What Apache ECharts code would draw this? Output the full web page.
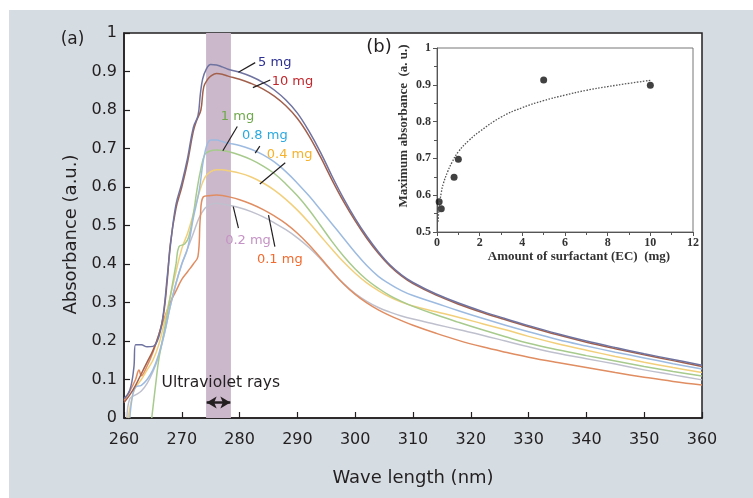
<!DOCTYPE html>
<html>
<head>
<meta charset="utf-8">
<script src="https://cdn.jsdelivr.net/npm/echarts@6/dist/echarts.min.js"></script>
<style>
  html, body { margin: 0; padding: 0; background: #fff; }
  #chart { position: absolute; left: 9px; top: 10px; width: 744px; height: 488px; }
</style>
</head>
<body>
<div id="chart"></div>
<script>
// (a) spectra: rising edge as [wavelength, absorbance], tail on shared wavelengths
const tailWl = [278, 280, 282, 284, 286, 288, 290, 292, 294, 296, 298, 300, 302, 304, 306, 308, 310, 314, 318, 322, 326, 330, 335, 340, 345, 350, 355, 360];

const rise_5mg = [[260, 0.05], [261, 0.072], [261.7, 0.13], [262, 0.19], [263, 0.19], [264, 0.185], [265, 0.186], [266, 0.21], [266.8, 0.27], [267.5, 0.37], [268.2, 0.47], [269, 0.555], [270, 0.61], [271, 0.675], [272, 0.755], [272.8, 0.785], [273.2, 0.84], [273.6, 0.88], [274.2, 0.905], [275, 0.918], [276, 0.917], [277, 0.912]];
const tail_5mg = [0.906, 0.898, 0.887, 0.872, 0.852, 0.826, 0.792, 0.745, 0.690, 0.628, 0.570, 0.518, 0.472, 0.432, 0.398, 0.372, 0.352, 0.322, 0.298, 0.277, 0.258, 0.240, 0.219, 0.200, 0.183, 0.167, 0.152, 0.137];

const rise_10mg = [[260, 0.04], [261, 0.06], [262, 0.085], [263, 0.115], [264, 0.145], [265, 0.175], [266, 0.215], [266.8, 0.265], [267.5, 0.36], [268, 0.45], [269, 0.545], [270, 0.60], [271, 0.665], [272, 0.745], [272.6, 0.774], [273.3, 0.80], [273.8, 0.86], [274.5, 0.88], [275, 0.888], [276, 0.895], [277, 0.893]];
const tail_10mg = [0.888, 0.880, 0.869, 0.855, 0.836, 0.811, 0.778, 0.733, 0.678, 0.618, 0.562, 0.512, 0.467, 0.428, 0.395, 0.369, 0.349, 0.319, 0.295, 0.274, 0.255, 0.237, 0.216, 0.197, 0.180, 0.164, 0.149, 0.134];

const rise_1mg = [[264.8, 0], [265.5, 0.09], [266, 0.15], [267, 0.23], [268, 0.315], [269, 0.40], [269.5, 0.445], [270.5, 0.452], [271.2, 0.47], [272, 0.53], [272.6, 0.59], [273.2, 0.64], [274, 0.685], [275, 0.694], [276, 0.696], [277, 0.695]];
const tail_1mg = [0.692, 0.683, 0.671, 0.655, 0.635, 0.608, 0.577, 0.541, 0.500, 0.458, 0.420, 0.387, 0.359, 0.337, 0.318, 0.303, 0.290, 0.268, 0.248, 0.229, 0.211, 0.194, 0.177, 0.162, 0.148, 0.134, 0.121, 0.109];

const rise_08mg = [[261, 0], [261.5, 0.06], [262, 0.08], [263, 0.085], [264, 0.10], [265, 0.125], [266, 0.165], [267, 0.22], [268, 0.29], [269, 0.35], [270, 0.40], [271, 0.44], [272, 0.52], [273, 0.59], [274, 0.69], [275, 0.722], [276, 0.722], [277, 0.718]];
const tail_08mg = [0.714, 0.708, 0.698, 0.684, 0.665, 0.640, 0.610, 0.577, 0.541, 0.504, 0.467, 0.430, 0.396, 0.368, 0.348, 0.331, 0.318, 0.298, 0.278, 0.259, 0.241, 0.224, 0.204, 0.187, 0.171, 0.156, 0.141, 0.127];

const rise_04mg = [[260.7, 0], [261.5, 0.06], [262, 0.08], [263, 0.10], [264, 0.125], [265, 0.15], [266, 0.19], [267, 0.25], [268, 0.315], [269, 0.38], [270, 0.44], [271, 0.48], [272, 0.53], [273, 0.585], [274, 0.625], [275, 0.640], [276, 0.645], [277, 0.645]];
const tail_04mg = [0.642, 0.636, 0.626, 0.611, 0.592, 0.568, 0.540, 0.508, 0.473, 0.438, 0.405, 0.376, 0.351, 0.331, 0.314, 0.301, 0.291, 0.276, 0.261, 0.245, 0.229, 0.212, 0.193, 0.176, 0.160, 0.145, 0.131, 0.118];

const rise_02mg = [[260.5, 0], [261, 0.05], [262, 0.06], [263, 0.07], [264, 0.09], [265, 0.12], [266, 0.16], [267, 0.22], [268, 0.29], [269, 0.35], [270, 0.40], [271, 0.44], [272, 0.48], [273, 0.52], [274, 0.545], [275, 0.555], [276, 0.558], [277, 0.556]];
const tail_02mg = [0.553, 0.546, 0.536, 0.523, 0.507, 0.489, 0.468, 0.443, 0.413, 0.380, 0.349, 0.323, 0.303, 0.287, 0.275, 0.265, 0.257, 0.243, 0.229, 0.215, 0.200, 0.185, 0.168, 0.154, 0.140, 0.125, 0.112, 0.099];

const rise_01mg = [[260, 0.045], [261, 0.07], [262, 0.10], [262.6, 0.125], [263, 0.11], [264, 0.135], [265, 0.17], [266, 0.215], [267, 0.26], [268, 0.30], [269, 0.33], [270, 0.36], [271, 0.38], [272, 0.40], [272.8, 0.42], [273.2, 0.52], [273.7, 0.574], [275, 0.578], [276, 0.579], [277, 0.578]];
const tail_01mg = [0.575, 0.567, 0.556, 0.542, 0.525, 0.505, 0.480, 0.450, 0.416, 0.381, 0.348, 0.321, 0.299, 0.281, 0.266, 0.253, 0.241, 0.220, 0.201, 0.185, 0.171, 0.158, 0.144, 0.131, 0.118, 0.106, 0.095, 0.086];

// (b) inset: measured maxima and dotted fit
const ecAmount = [0.1, 0.2, 0.8, 1, 5, 10];
const maxAbs = [0.582, 0.563, 0.649, 0.698, 0.913, 0.899];
const fitX = [0.05, 0.1, 0.2, 0.3, 0.5, 0.7, 1, 1.5, 2, 3, 4, 5, 6, 7, 8, 9, 10];
const fitY = [0.528, 0.565, 0.607, 0.632, 0.664, 0.689, 0.718, 0.749, 0.773, 0.812, 0.838, 0.857, 0.872, 0.885, 0.895, 0.904, 0.912];

const uvBand = [274.2, 278.5];

const seriesDefs = [
  { name: '0.2 mg', rise: rise_02mg, tail: tail_02mg, color: '#bfc0cd', text: '#c593c5', label: [277.5, 0.462], leader: [[279.8, 0.493], [278.9, 0.549]] },
  { name: '0.1 mg', rise: rise_01mg, tail: tail_01mg, color: '#e08d62', text: '#f26a2e', label: [283.0, 0.412], leader: [[286.1, 0.445], [285.0, 0.527]] },
  { name: '0.4 mg', rise: rise_04mg, tail: tail_04mg, color: '#f2cf7b', text: '#f7b22c', label: [284.7, 0.683], leader: [[287.9, 0.663], [283.5, 0.608]] },
  { name: '1 mg', rise: rise_1mg, tail: tail_1mg, color: '#a7ca8d', text: '#6fa84c', label: [276.75, 0.783], leader: [[279.6, 0.757], [277.1, 0.694]] },
  { name: '0.8 mg', rise: rise_08mg, tail: tail_08mg, color: '#9dbbe0', text: '#29a9e0', label: [280.4, 0.733], leader: [[283.5, 0.706], [282.7, 0.688]] },
  { name: '10 mg', rise: rise_10mg, tail: tail_10mg, color: '#a2604c', text: '#c1272d', label: [285.55, 0.875], leader: [[282.3, 0.858], [285.3, 0.878]] },
  { name: '5 mg', rise: rise_5mg, tail: tail_5mg, color: '#6f73a0', text: '#2e3192', label: [283.2, 0.923], leader: [[279.8, 0.898], [282.7, 0.923]] }
];

const ink = '#231f20';
const sans = 'DejaVu Sans';
const serif = 'Liberation Serif';

const chart = echarts.init(document.getElementById('chart'));

const series = seriesDefs.map(d => ({
  name: d.name,
  type: 'line',
  xAxisIndex: 0,
  yAxisIndex: 0,
  showSymbol: false,
  smooth: 0.4,
  lineStyle: { color: d.color, width: 1.5 },
  data: d.rise.concat(tailWl.map((w, i) => [w, d.tail[i]])),
  silent: true
}));

// UV band behind the curves
series[0].markArea = {
  silent: true,
  itemStyle: { color: '#cbb8cb' },
  data: [[{ xAxis: uvBand[0] }, { xAxis: uvBand[1] }]]
};

// leader lines + labels on top
series.push({
  type: 'line',
  xAxisIndex: 0,
  yAxisIndex: 0,
  data: [],
  silent: true,
  z: 5,
  markLine: {
    silent: true,
    symbol: 'none',
    animation: false,
    lineStyle: { color: ink, width: 1.2, type: 'solid' },
    label: { show: false },
    data: seriesDefs.map(d => [{ coord: d.leader[0] }, { coord: d.leader[1] }])
  },
  markPoint: {
    silent: true,
    symbol: 'circle',
    symbolSize: 0,
    animation: false,
    label: { show: true, position: 'right', distance: 0, fontFamily: sans, fontSize: 13 },
    data: seriesDefs.map(d => ({
      coord: d.label,
      label: { formatter: d.name, color: d.text }
    })).concat([{
      coord: [266.5, 0.091],
      label: { formatter: 'Ultraviolet rays', color: ink, fontSize: 15.5 }
    }])
  }
});

// double arrow under the band
series.push({
  type: 'line',
  xAxisIndex: 0,
  yAxisIndex: 0,
  data: [],
  silent: true,
  z: 5,
  markLine: {
    silent: true,
    animation: false,
    symbol: ['arrow', 'arrow'],
    symbolSize: [9, 10],
    lineStyle: { color: ink, width: 2.5, type: 'solid' },
    label: { show: false },
    data: [[{ coord: [uvBand[0] + 0.1, 0.04] }, { coord: [uvBand[1] - 0.1, 0.04] }]]
  }
});

// inset
series.push({
  type: 'line',
  xAxisIndex: 1,
  yAxisIndex: 1,
  showSymbol: false,
  smooth: 0.5,
  lineStyle: { color: '#555', width: 1.3, type: [1.5, 1.5] },
  data: fitX.map((x, i) => [x, fitY[i]]),
  silent: true
});
series.push({
  type: 'scatter',
  xAxisIndex: 1,
  yAxisIndex: 1,
  symbolSize: 7,
  itemStyle: { color: '#111' },
  data: ecAmount.map((x, i) => [x, maxAbs[i]]),
  silent: true
});

const insetLabel = { fontFamily: serif, fontWeight: 'bold', fontSize: 12, color: '#333' };

chart.setOption({
  animation: false,
  backgroundColor: '#d5dde3',
  grid: [
    { left: 115, top: 23, width: 578, height: 385, show: true, backgroundColor: '#fff', borderColor: ink, borderWidth: 1.5 },
    { left: 428, top: 38, width: 256, height: 184, show: true, backgroundColor: 'transparent', borderColor: '#777', borderWidth: 1 }
  ],
  xAxis: [
    {
      gridIndex: 0, type: 'value', min: 260, max: 360, interval: 10,
      axisLine: { lineStyle: { color: ink, width: 1.5 } },
      axisTick: { inside: true, length: 6, lineStyle: { color: ink, width: 1.2 } },
      axisLabel: { fontFamily: sans, fontSize: 16, color: ink, margin: 14 },
      splitLine: { show: false },
      name: 'Wave length (nm)', nameLocation: 'middle', nameGap: 51,
      nameTextStyle: { fontFamily: sans, fontSize: 18, color: ink }
    },
    {
      gridIndex: 1, type: 'value', min: 0, max: 12, interval: 2,
      axisLine: { lineStyle: { color: '#555', width: 1 } },
      axisTick: { length: 4, lineStyle: { color: '#555' } },
      minorTick: { show: true, splitNumber: 2, length: 3, lineStyle: { color: '#555' } },
      axisLabel: Object.assign({ margin: 5 }, insetLabel),
      splitLine: { show: false },
      name: 'Amount of surfactant (EC)  (mg)', nameLocation: 'middle', nameGap: 17,
      nameTextStyle: Object.assign({ padding: [0, 0, 0, 28] }, insetLabel, { fontSize: 13 })
    }
  ],
  yAxis: [
    {
      gridIndex: 0, type: 'value', min: 0, max: 1, interval: 0.1,
      axisLine: { show: true, lineStyle: { color: ink, width: 1.5 } },
      axisTick: { show: true, inside: true, length: 6, lineStyle: { color: ink, width: 1.2 } },
      axisLabel: {
        fontFamily: sans, fontSize: 16, color: ink, margin: 7,
        formatter: v => (v === 0 || v === 1) ? String(v) : v.toFixed(1)
      },
      splitLine: { show: false },
      name: 'Absorbance (a.u.)', nameLocation: 'middle', nameGap: 41,
      nameTextStyle: { fontFamily: sans, fontSize: 18, color: ink, padding: [0, 18, 0, 0] }
    },
    {
      gridIndex: 1, type: 'value', min: 0.5, max: 1, interval: 0.1,
      axisLine: { show: true, lineStyle: { color: '#555', width: 1 } },
      axisTick: { show: true, length: 4, lineStyle: { color: '#555' } },
      minorTick: { show: true, splitNumber: 2, length: 3, lineStyle: { color: '#555' } },
      axisLabel: Object.assign({
        margin: 6,
        formatter: v => v === 1 ? '1' : v.toFixed(1)
      }, insetLabel),
      splitLine: { show: false },
      name: 'Maximum absorbance  (a. u.)', nameLocation: 'middle', nameGap: 27,
      nameTextStyle: Object.assign({ padding: [0, 0, 0, 28] }, insetLabel, { fontSize: 13 })
    }
  ],
  graphic: [
    { type: 'text', x: 63.5, y: 30, style: { text: '(a)', font: '17px "DejaVu Sans"', fill: ink, align: 'center', verticalAlign: 'middle' } },
    { type: 'text', x: 370, y: 37, style: { text: '(b)', font: '18px "DejaVu Sans"', fill: ink, align: 'center', verticalAlign: 'middle' } }
  ],
  series
});
</script>
</body>
</html>
